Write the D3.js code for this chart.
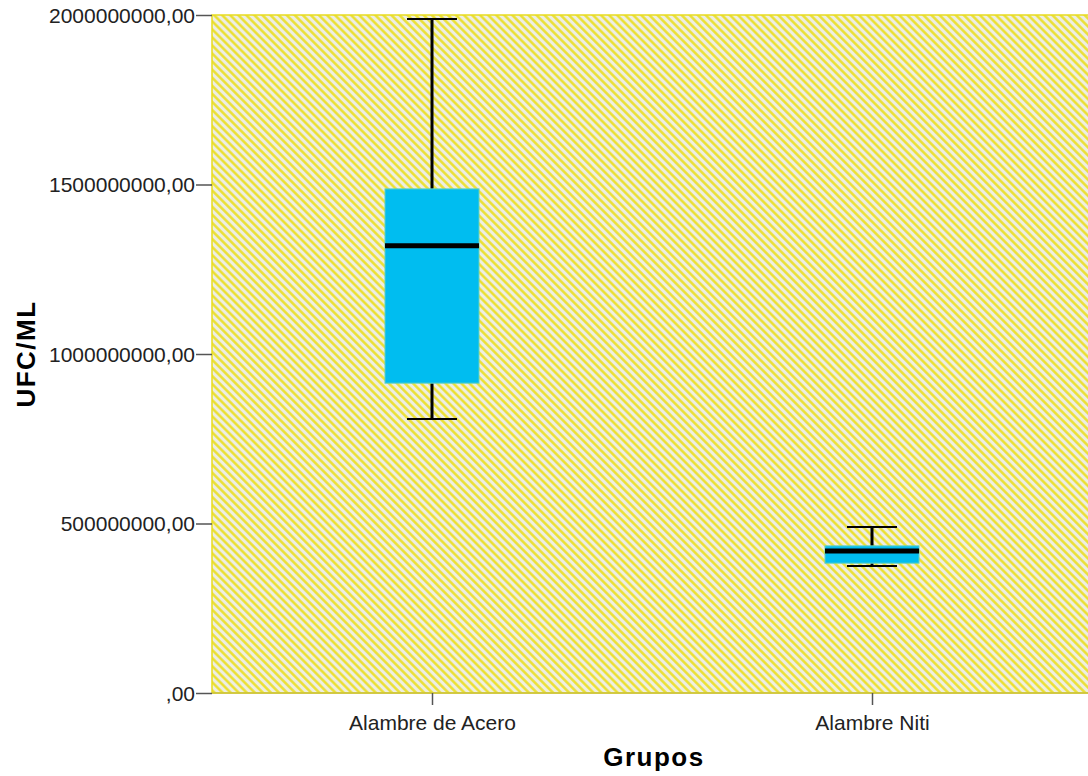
<!DOCTYPE html>
<meta charset="utf-8">

<!-- Load d3.js -->
<script src="https://d3js.org/d3.v7.min.js"></script>

<style>
  body {margin: 0; background: #fff; font-family: Arial, "Liberation Sans", sans-serif;}
</style>

<!-- Create a div where the graph will take place -->
<div id="my_dataviz"></div>

<script>

// data
var groups = ["Alambre de Acero", "Alambre Niti"];
var whiskerLow  = [808000000, 375000000];
var q1          = [914000000, 383000000];
var medians     = [1319000000, 419000000];
var q3          = [1487000000, 434000000];
var whiskerHigh = [1988000000, 490000000];
var yTicks = [0, 500000000, 1000000000, 1500000000, 2000000000];

// set the dimensions and margins of the graph
var margin = {top: 15, right: -4, bottom: 83, left: 212},
    width = 1088 - margin.left - margin.right,
    height = 776 - margin.top - margin.bottom;

var svg = d3.select("#my_dataviz")
  .append("svg")
    .attr("width", 1088)
    .attr("height", 776)
    .style("display", "block");

// hatch pattern for the plot background
var defs = svg.append("defs");
var pat = defs.append("pattern")
    .attr("id", "hatch")
    .attr("patternUnits", "userSpaceOnUse")
    .attr("width", 5.7)
    .attr("height", 10)
    .attr("patternTransform", "rotate(-45)");
pat.append("rect")
    .attr("width", 5.7).attr("height", 10)
    .attr("fill", "#eeeee4");
pat.append("line")
    .attr("x1", 1.4).attr("x2", 1.4)
    .attr("y1", 0).attr("y2", 10)
    .attr("stroke", "#eadf2a")
    .attr("stroke-width", 2.4);

var g = svg.append("g")
    .attr("transform", "translate(" + margin.left + "," + margin.top + ")");

// X scale
var x = d3.scalePoint()
  .domain(groups)
  .range([0, width])
  .padding(0.5);

// Y scale
var y = d3.scaleLinear()
  .domain([0, 2000000000])
  .range([height, 0]);

// plot background
g.append("rect")
    .attr("x", 0)
    .attr("y", 0)
    .attr("width", width + 10)
    .attr("height", height)
    .attr("fill", "url(#hatch)")
    .attr("stroke", "#e8dc20")
    .attr("stroke-width", 1.5);

// bottom frame line
g.append("line")
    .attr("x1", 0).attr("x2", width + 10)
    .attr("y1", height).attr("y2", height)
    .attr("stroke", "#c8c040")
    .attr("stroke-width", 1.5);

// Y axis
var yAxis = g.append("g")
  .call(d3.axisLeft(y)
    .tickValues(yTicks)
    .tickSize(16)
    .tickFormat(function(d) { return d === 0 ? ",00" : d + ",00"; }));
yAxis.select(".domain").remove();
yAxis.selectAll("line").attr("stroke", "#555").attr("stroke-width", 1.5);
yAxis.selectAll("text")
    .attr("x", -17)
    .attr("dy", "0.34em")
    .style("font-size", "21px")
    .style("font-family", "Arial, 'Liberation Sans', sans-serif")
    .attr("fill", "#222");

// X axis
var xAxis = g.append("g")
  .attr("transform", "translate(0," + height + ")")
  .call(d3.axisBottom(x).tickSize(12));
xAxis.select(".domain").remove();
xAxis.selectAll("line").attr("stroke", "#555").attr("stroke-width", 1.5);
xAxis.selectAll("text")
    .attr("y", 37)
    .attr("dy", 0)
    .style("font-size", "21px")
    .style("font-family", "Arial, 'Liberation Sans', sans-serif")
    .attr("fill", "#222");

// Boxes
var boxWidth = 94, capWidth = 50;
groups.forEach(function(name, i) {
  var cx = x(name);

  // whisker stems
  g.append("line")
    .attr("x1", cx).attr("x2", cx)
    .attr("y1", y(whiskerHigh[i])).attr("y2", y(q3[i]))
    .attr("stroke", "black").attr("stroke-width", 3);
  g.append("line")
    .attr("x1", cx).attr("x2", cx)
    .attr("y1", y(q1[i])).attr("y2", y(whiskerLow[i]))
    .attr("stroke", "black").attr("stroke-width", 3);

  // caps
  g.append("line")
    .attr("x1", cx - capWidth / 2).attr("x2", cx + capWidth / 2)
    .attr("y1", y(whiskerHigh[i])).attr("y2", y(whiskerHigh[i]))
    .attr("stroke", "black").attr("stroke-width", 2);
  g.append("line")
    .attr("x1", cx - capWidth / 2).attr("x2", cx + capWidth / 2)
    .attr("y1", y(whiskerLow[i])).attr("y2", y(whiskerLow[i]))
    .attr("stroke", "black").attr("stroke-width", 2);

  // box
  g.append("rect")
    .attr("x", cx - boxWidth / 2)
    .attr("y", y(q3[i]))
    .attr("width", boxWidth)
    .attr("height", y(q1[i]) - y(q3[i]))
    .attr("fill", "#00bdf0")
    .attr("stroke", "#60d0c0")
    .attr("stroke-width", 1);

  // median
  g.append("line")
    .attr("x1", cx - boxWidth / 2).attr("x2", cx + boxWidth / 2)
    .attr("y1", y(medians[i])).attr("y2", y(medians[i]))
    .attr("stroke", "black").attr("stroke-width", 5);
});

// Axis titles
svg.append("text")
    .attr("transform", "translate(35," + (margin.top + height / 2) + ")rotate(-90)")
    .attr("text-anchor", "middle")
    .style("font-size", "26px")
    .style("font-weight", "bold")
    .style("letter-spacing", "1.5px")
    .text("UFC/ML");

svg.append("text")
    .attr("x", 654)
    .attr("y", 766)
    .attr("text-anchor", "middle")
    .style("font-size", "26px")
    .style("font-weight", "bold")
    .style("letter-spacing", "1.5px")
    .text("Grupos");

</script>
